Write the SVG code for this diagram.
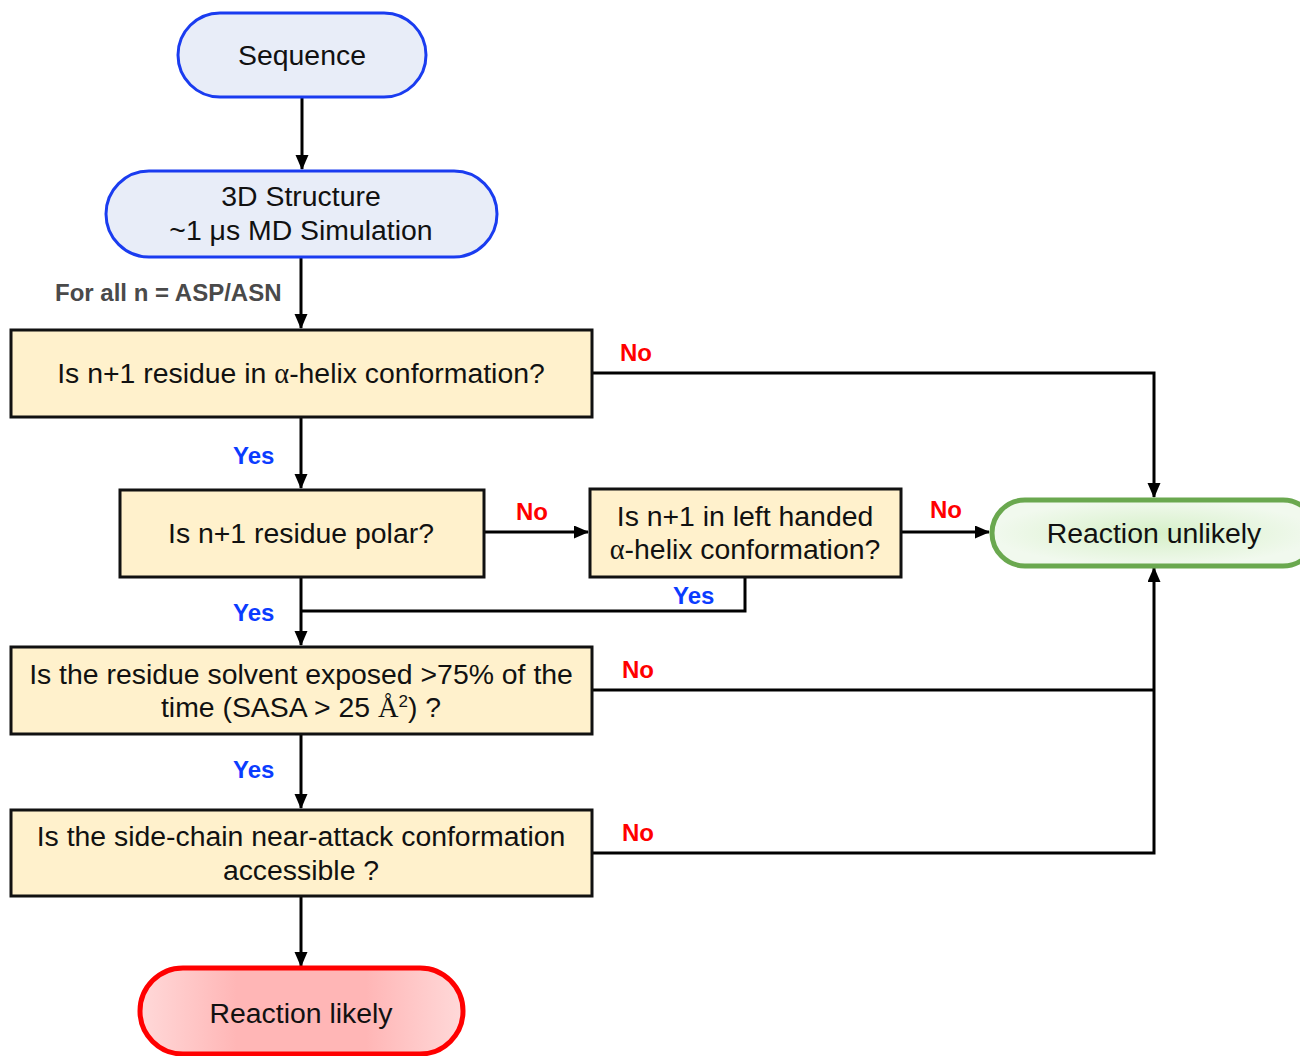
<svg xmlns="http://www.w3.org/2000/svg" width="1300" height="1056" viewBox="0 0 1300 1056">
<style>
  .t { font-family: "Liberation Sans", Arial, sans-serif; font-size: 28.4px; fill: #111; text-anchor: middle; }
  .g { font-family: "Liberation Serif", "Times New Roman", serif; }
  .box { fill: #fff1cc; stroke: #111; stroke-width: 3; }
  .blue { fill: #e8edf8; stroke: #1a3cf0; stroke-width: 3; }
  .lbl { font-family: "Liberation Sans", Arial, sans-serif; font-size: 24px; font-weight: bold; }
  .no { fill: #ff0000; }
  .yes { fill: #0b3cff; }
  .c { fill: none; stroke: #000; stroke-width: 3; }
</style>
<defs>
  <marker id="ah" markerUnits="userSpaceOnUse" markerWidth="16" markerHeight="14" refX="14" refY="6.5" orient="auto">
    <path d="M0,0 L15,6.5 L0,13 z" fill="#000"/>
  </marker>
  <radialGradient id="gg" cx="0.5" cy="0.5" r="0.5">
    <stop offset="0" stop-color="#d6f0c8"/>
    <stop offset="1" stop-color="#f1f9ee"/>
  </radialGradient>
  <linearGradient id="rg" x1="0" y1="0" x2="1" y2="0">
    <stop offset="0" stop-color="#ffd9d9"/>
    <stop offset="0.3" stop-color="#ffb6b6"/>
    <stop offset="0.7" stop-color="#ffb6b6"/>
    <stop offset="1" stop-color="#ffd9d9"/>
  </linearGradient>
</defs>

<g id="connectors">
  <path class="c" d="M302,97 V169" marker-end="url(#ah)"/>
  <path class="c" d="M301,257 V328" marker-end="url(#ah)"/>
  <path class="c" d="M592,373 H1154 V497" marker-end="url(#ah)"/>
  <path class="c" d="M301,417 V488" marker-end="url(#ah)"/>
  <path class="c" d="M484,532 H588" marker-end="url(#ah)"/>
  <path class="c" d="M901,532 H989" marker-end="url(#ah)"/>
  <path class="c" d="M745,577 V611 H301"/>
  <path class="c" d="M301,577 V645" marker-end="url(#ah)"/>
  <path class="c" d="M592,690 H1154"/>
  <path class="c" d="M592,853 H1154 V568" marker-end="url(#ah)"/>
  <path class="c" d="M301,734 V808" marker-end="url(#ah)"/>
  <path class="c" d="M301,896 V966" marker-end="url(#ah)"/>
  <text class="lbl" x="55" y="301" fill="#4a4a4a">For all n = ASP/ASN</text>
  <text class="lbl no" x="620" y="361">No</text>
  <text class="lbl yes" x="233" y="464">Yes</text>
  <text class="lbl no" x="516" y="520">No</text>
  <text class="lbl no" x="930" y="518">No</text>
  <text class="lbl yes" x="673" y="604">Yes</text>
  <text class="lbl yes" x="233" y="621">Yes</text>
  <text class="lbl no" x="622" y="678">No</text>
  <text class="lbl yes" x="233" y="778">Yes</text>
  <text class="lbl no" x="622" y="841">No</text>
</g>

<g id="sequence">
  <rect class="blue" x="178" y="13" width="248" height="84" rx="42"/>
  <text class="t" x="302" y="65">Sequence</text>
</g>

<g id="structure">
  <rect class="blue" x="106" y="171" width="391" height="86" rx="43"/>
  <text class="t" x="301" y="206">3D Structure</text>
  <text class="t" x="301" y="240">~1 μs MD Simulation</text>
</g>

<g id="q-helix">
  <rect class="box" x="11" y="330" width="581" height="87"/>
  <text class="t" x="301" y="383">Is n+1 residue in <tspan class="g">α</tspan>-helix conformation?</text>
</g>

<g id="q-polar">
  <rect class="box" x="120" y="490" width="364" height="87"/>
  <text class="t" x="301" y="543">Is n+1 residue polar?</text>
</g>

<g id="q-left">
  <rect class="box" x="590" y="489" width="311" height="88"/>
  <text class="t" x="745" y="526">Is n+1 in left handed</text>
  <text class="t" x="745" y="559"><tspan class="g">α</tspan>-helix conformation?</text>
</g>

<g id="unlikely">
  <rect x="992" y="500" width="324" height="66" rx="33" fill="url(#gg)" stroke="#6aa84f" stroke-width="5"/>
  <text class="t" x="1154" y="543">Reaction unlikely</text>
</g>

<g id="q-solvent">
  <rect class="box" x="11" y="647" width="581" height="87"/>
  <text class="t" x="301" y="684">Is the residue solvent exposed &gt;75% of the</text>
  <text class="t" x="301" y="717">time (SASA &gt; 25 <tspan class="g">Å</tspan><tspan font-size="17" dy="-10">2</tspan><tspan dy="10">) ?</tspan></text>
</g>

<g id="q-sidechain">
  <rect class="box" x="11" y="810" width="581" height="86"/>
  <text class="t" x="301" y="846">Is the side-chain near-attack conformation</text>
  <text class="t" x="301" y="880">accessible ?</text>
</g>

<g id="likely">
  <rect x="140" y="968" width="323" height="86" rx="43" fill="url(#rg)" stroke="#ff0000" stroke-width="5"/>
  <text class="t" x="301" y="1023">Reaction likely</text>
</g>
</svg>
